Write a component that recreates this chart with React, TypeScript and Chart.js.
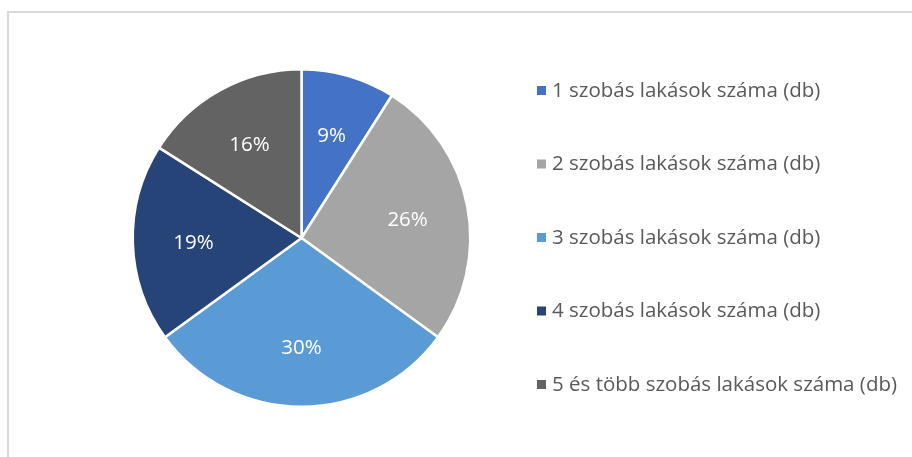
import React, { useEffect, useRef } from "react";
import { Chart, registerables } from "chart.js";

Chart.register(...registerables);

const categories = [
  "1 szobás lakások száma (db)",
  "2 szobás lakások száma (db)",
  "3 szobás lakások száma (db)",
  "4 szobás lakások száma (db)",
  "5 és több szobás lakások száma (db)",
];
const shares = [9, 26, 30, 19, 16];
const colors = ["#4472C4", "#A5A5A5", "#5B9BD5", "#264478", "#636363"];

const FONT = "'Open Sans', sans-serif";

const labelPlugin = {
  id: "pctLabels",
  afterDatasetsDraw(chart: any) {
    const meta = chart.getDatasetMeta(0);
    const ctx = chart.ctx;
    const data = chart.data.datasets[0].data as number[];
    const total = data.reduce((a, b) => a + b, 0);
    ctx.save();
    ctx.font = `20.5px ${FONT}`;
    ctx.fillStyle = "#FFFFFF";
    ctx.textAlign = "center";
    ctx.textBaseline = "middle";
    meta.data.forEach((arc: any, i: number) => {
      const { x, y, startAngle, endAngle, outerRadius } = arc.getProps(
        ["x", "y", "startAngle", "endAngle", "outerRadius"],
        true
      );
      const mid = (startAngle + endAngle) / 2;
      const r = outerRadius * 0.64;
      const pct = Math.round((data[i] / total) * 100) + "%";
      ctx.fillText(pct, x + Math.cos(mid) * r, y + Math.sin(mid) * r + 2);
    });
    ctx.restore();
  },
};

const legendPlugin = {
  id: "sideLegend",
  afterDraw(chart: any) {
    const ctx = chart.ctx;
    const meta = chart.getDatasetMeta(0);
    const arc = meta.data[0];
    if (!arc) return;
    const cy = arc.y;
    const left = chart.chartArea.right + 1;
    const spacing = 73.5;
    const n = chart.data.labels.length;
    ctx.save();
    ctx.font = `20.5px ${FONT}`;
    ctx.textBaseline = "middle";
    ctx.textAlign = "left";
    (chart.data.labels as string[]).forEach((lab, i) => {
      const yy = cy + (i - (n - 1) / 2) * spacing;
      ctx.fillStyle = colors[i];
      ctx.fillRect(left, yy - 5, 9, 9);
      ctx.fillStyle = "#595959";
      ctx.fillText(lab, left + 15, yy);
    });
    ctx.restore();
  },
};

export default function App() {
  const ref = useRef<HTMLCanvasElement>(null);
  useEffect(() => {
    if (!ref.current) return;
    const chart = new Chart(ref.current, {
      type: "pie",
      data: {
        labels: categories,
        datasets: [
          {
            data: shares,
            backgroundColor: colors,
            borderColor: "#FFFFFF",
            borderWidth: 2.5,
          },
        ],
      },
      options: {
        animation: false,
        responsive: false,
        layout: { padding: { top: 68, bottom: 49, left: 67, right: 376 } },
        plugins: {
          legend: { display: false },
          tooltip: { enabled: false },
        },
      },
      plugins: [labelPlugin, legendPlugin],
    });
    return () => chart.destroy();
  }, []);
  return (
    <div style={{ position: "fixed", left: 0, top: 0, width: 912, height: 457, background: "#fff", overflow: "hidden" }}>
      <div
        style={{
          position: "absolute",
          left: 7,
          top: 11,
          width: 1200,
          height: 1200,
          border: "2px solid #D9D9D9",
          boxSizing: "border-box",
        }}
      />
      <canvas ref={ref} width={912} height={457} style={{ position: "absolute", left: 0, top: 0 }} />
    </div>
  );
}
